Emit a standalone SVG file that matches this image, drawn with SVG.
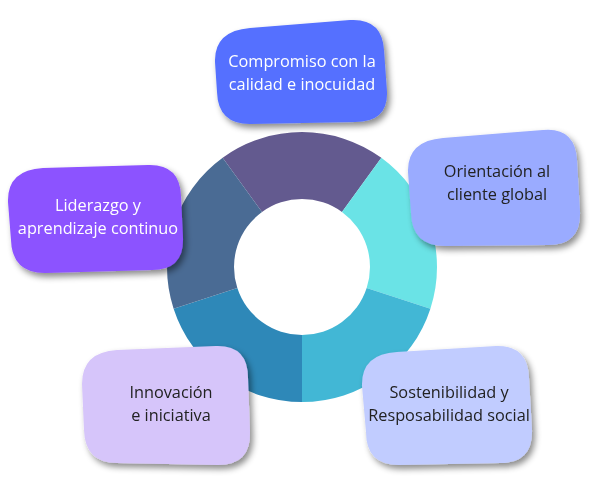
<svg xmlns="http://www.w3.org/2000/svg" width="607" height="491" viewBox="0 0 607 491">
<defs>
<filter id="sh" x="-20%" y="-20%" width="150%" height="150%"><feDropShadow dx="3" dy="4" stdDeviation="3" flood-color="#000" flood-opacity="0.45"/></filter>
</defs>
<style>
text{font-family:"Open Sans","Noto Sans",sans-serif;font-size:16.3px;text-anchor:middle}
.w{fill:#fff}.d{fill:#222}
</style>
<rect width="607" height="491" fill="#fff"/>
<g id="donut">
<path d="M222.65,157.8 A135,135 0 0 1 381.35,157.8 L341.97,211.99 A68,68 0 0 0 262.03,211.99 Z" fill="#635A8F"/>
<path d="M381.35,157.8 A135,135 0 0 1 430.4,308.7 L366.67,288.01 A68,68 0 0 0 341.97,211.99 Z" fill="#6AE3E6"/>
<path d="M430.4,308.7 A135,135 0 0 1 302,402 L302,335 A68,68 0 0 0 366.67,288.01 Z" fill="#42B7D5"/>
<path d="M302,402 A135,135 0 0 1 173.6,308.7 L237.33,288.01 A68,68 0 0 0 302,335 Z" fill="#2E88B8"/>
<path d="M173.6,308.7 A135,135 0 0 1 222.65,157.8 L262.03,211.99 A68,68 0 0 0 237.33,288.01 Z" fill="#4A6B94"/>
</g>
<g id="n1" filter="url(#sh)">
<path d="M250,28 L350,20 Q382,18 384,50 L387,92 Q388,122 355,122 L250,124 Q218,124 217,92 L215,62 Q214,31 250,28 Z" fill="#5470FF"/>
<text class="w" x="302" y="67">Compromiso con la</text>
<text class="w" x="302" y="90">calidad e inocuidad</text>
</g>
<g id="n2" filter="url(#sh)">
<path d="M443,138 L543,130 Q575,127 577,160 L580,212 Q581,245 548,245 L445,246 Q412,246 411,213 L408,172 Q407,141 443,138 Z" fill="#9AABFF"/>
<text class="d" x="497" y="177">Orientación al</text>
<text class="d" x="497" y="200">cliente global</text>
</g>
<g id="n3" filter="url(#sh)">
<path d="M43,168 L148,165 Q180,164 181,196 L183,238 Q184,270 152,270 L45,273 Q12,273 11,240 L8,202 Q7,170 43,168 Z" fill="#8C52FF"/>
<text class="w" x="98" y="211">Liderazgo y</text>
<text class="w" x="98" y="234">aprendizaje continuo</text>
</g>
<g id="n4" filter="url(#sh)">
<path d="M117,350 L216,346 Q248,345 248,378 L250,432 Q251,465 218,465 L117,463 Q85,463 84,430 L82,384 Q82,352 117,350 Z" fill="#D6C5FA"/>
<text class="d" x="171" y="398">Innovación</text>
<text class="d" x="171" y="421">e iniciativa</text>
</g>
<g id="n5" filter="url(#sh)">
<path d="M397,352 L496,346 Q528,345 529,378 L532,430 Q533,463 500,463 L399,465 Q366,465 366,432 L362,386 Q361,354 397,352 Z" fill="#C1CCFF"/>
<text class="d" x="449" y="398">Sostenibilidad y</text>
<text class="d" x="449" y="421">Resposabilidad social</text>
</g>
</svg>
